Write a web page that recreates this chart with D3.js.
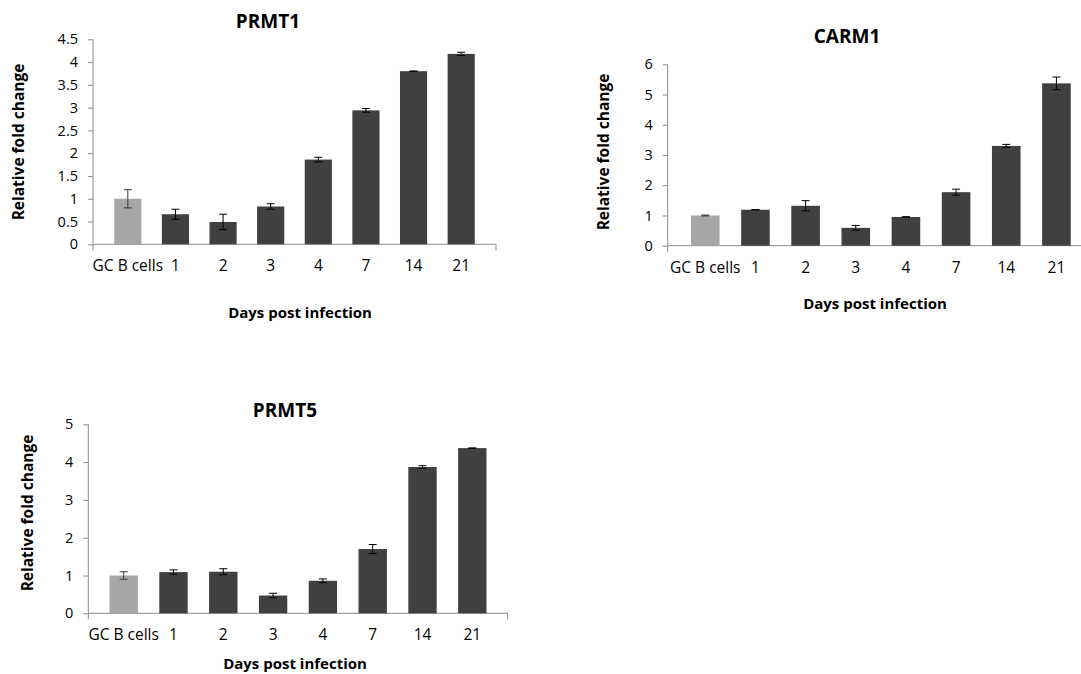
<!DOCTYPE html>
<html>
<head>
<meta charset="utf-8">
<script src="https://cdn.jsdelivr.net/npm/d3@7"></script>
<style>
  body { margin: 0; background: #fff; }
  text { font-family: "Open Sans", "Liberation Sans", sans-serif; fill: #000; }
</style>
</head>
<body>
<div id="chart"></div>
<script>
// Data
const categories = ['GC B cells', '1', '2', '3', '4', '7', '14', '21']

const prmt1Values = [1.0, 0.66, 0.49, 0.83, 1.86, 2.94, 3.8, 4.18]
const prmt1Errors = [0.2, 0.11, 0.17, 0.06, 0.05, 0.04, 0.005, 0.035]

const carm1Values = [1.0, 1.19, 1.32, 0.59, 0.95, 1.77, 3.3, 5.37]
const carm1Errors = [0.015, 0.005, 0.17, 0.08, 0.01, 0.1, 0.05, 0.21]

const prmt5Values = [1.0, 1.09, 1.1, 0.47, 0.86, 1.7, 3.87, 4.37]
const prmt5Errors = [0.1, 0.06, 0.08, 0.06, 0.05, 0.12, 0.035, 0.005]

const prmt1Ticks = [0, 0.5, 1, 1.5, 2, 2.5, 3, 3.5, 4, 4.5]
const carm1Ticks = [0, 1, 2, 3, 4, 5, 6]
const prmt5Ticks = [0, 1, 2, 3, 4, 5]

// Dimensions
const width = 1081
const height = 674

const svg = d3.select('#chart')
  .append('svg')
  .attr('width', width)
  .attr('height', height)

const axisColor = '#8c8c8c'

function drawChart(opt, values, errors, ticks) {
  const g = svg.append('g')

  // Scales
  const x = d3.scaleBand()
    .domain(categories)
    .range([opt.x0 + opt.pad, opt.x1 - opt.pad])
    .paddingInner(0.43)
    .paddingOuter(0.215)

  const y = d3.scaleLinear()
    .domain([0, d3.max(ticks)])
    .range([opt.yBase, opt.yTop])

  // y axis
  const yAxis = g.append('g')
    .attr('transform', `translate(${opt.x0},0)`)
    .call(d3.axisLeft(y).tickValues(ticks).tickSize(5).tickPadding(10)
      .tickFormat(d => String(d)))
  yAxis.select('.domain').remove()
  yAxis.selectAll('.tick line').attr('stroke', axisColor)
  yAxis.selectAll('.tick text')
    .style('font-size', '14.5px')
    .attr('fill', '#000')
  yAxis.append('line')
    .attr('x1', 0).attr('x2', 0)
    .attr('y1', opt.yTop).attr('y2', opt.yBase + 6)
    .attr('stroke', axisColor)

  // x axis
  g.append('line')
    .attr('x1', opt.x0).attr('x2', opt.x1)
    .attr('y1', opt.yBase).attr('y2', opt.yBase)
    .attr('stroke', axisColor)
  g.append('line')
    .attr('x1', opt.x1).attr('x2', opt.x1)
    .attr('y1', opt.yBase).attr('y2', opt.yBase + 6)
    .attr('stroke', axisColor)

  g.append('g')
    .selectAll('text')
    .data(categories)
    .join('text')
    .attr('x', d => x(d) + x.bandwidth() / 2)
    .attr('y', opt.yBase + 27)
    .attr('text-anchor', 'middle')
    .style('font-size', '15.5px')
    .text(d => d)

  // Bars
  g.append('g')
    .selectAll('rect')
    .data(values)
    .join('rect')
    .attr('x', (d, i) => x(categories[i]))
    .attr('width', x.bandwidth())
    .attr('y', d => y(d))
    .attr('height', d => opt.yBase - y(d))
    .attr('fill', (d, i) => i === 0 ? '#a6a6a6' : '#404040')

  // Error bars
  const cap = 4
  const err = g.append('g')
    .selectAll('g')
    .data(values)
    .join('g')
    .attr('stroke', (d, i) => i === 0 ? '#3a3a3a' : '#000')
    .attr('stroke-width', 1)
  err.append('line')
    .attr('x1', (d, i) => x(categories[i]) + x.bandwidth() / 2)
    .attr('x2', (d, i) => x(categories[i]) + x.bandwidth() / 2)
    .attr('y1', (d, i) => y(d + errors[i]))
    .attr('y2', (d, i) => y(d - errors[i]))
  err.append('line')
    .attr('x1', (d, i) => x(categories[i]) + x.bandwidth() / 2 - cap)
    .attr('x2', (d, i) => x(categories[i]) + x.bandwidth() / 2 + cap)
    .attr('y1', (d, i) => y(d + errors[i]))
    .attr('y2', (d, i) => y(d + errors[i]))
  err.append('line')
    .attr('x1', (d, i) => x(categories[i]) + x.bandwidth() / 2 - cap)
    .attr('x2', (d, i) => x(categories[i]) + x.bandwidth() / 2 + cap)
    .attr('y1', (d, i) => y(d - errors[i]))
    .attr('y2', (d, i) => y(d - errors[i]))

  // Titles
  g.append('text')
    .attr('x', opt.titleX).attr('y', opt.titleY)
    .attr('text-anchor', 'middle')
    .style('font-size', '19px')
    .style('font-weight', 'bold')
    .text(opt.title)

  g.append('text')
    .attr('x', opt.xTitleX).attr('y', opt.xTitleY)
    .attr('text-anchor', 'middle')
    .style('font-size', '15px')
    .style('font-weight', 'bold')
    .text('Days post infection')

  g.append('text')
    .attr('transform', `translate(${opt.yTitleX},${opt.yTitleY}) rotate(-90)`)
    .attr('text-anchor', 'middle')
    .attr('dy', '0.35em')
    .style('font-size', '15.5px')
    .style('font-weight', 'bold')
    .text('Relative fold change')
}

drawChart({
  title: 'PRMT1', x0: 93, x1: 496, pad: 11, yBase: 244.3, yTop: 39.3,
  titleX: 268, titleY: 28, xTitleX: 300, xTitleY: 318, yTitleX: 19, yTitleY: 142
}, prmt1Values, prmt1Errors, prmt1Ticks)

drawChart({
  title: 'CARM1', x0: 667.7, x1: 1094, pad: 12.5, yBase: 245.7, yTop: 64.3,
  titleX: 847, titleY: 43, xTitleX: 875, xTitleY: 309, yTitleX: 604, yTitleY: 152
}, carm1Values, carm1Errors, carm1Ticks)

drawChart({
  title: 'PRMT5', x0: 88.3, x1: 507.7, pad: 10.5, yBase: 613.3, yTop: 424.3,
  titleX: 285, titleY: 417, xTitleX: 295, xTitleY: 669, yTitleX: 28, yTitleY: 513
}, prmt5Values, prmt5Errors, prmt5Ticks)
</script>
</body>
</html>
